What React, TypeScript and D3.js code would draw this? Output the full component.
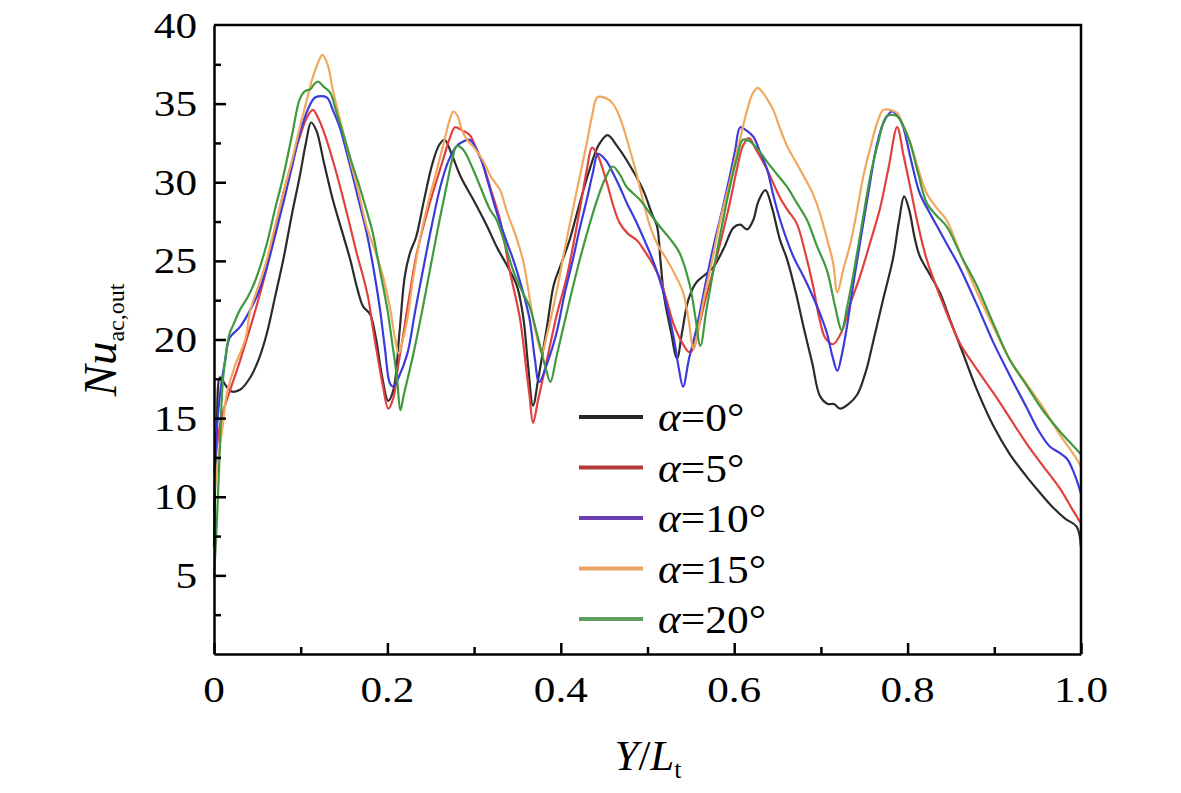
import { useEffect, useRef } from "react";
import * as d3 from "d3";

type Pt = [number, number];

// Y/Lt, Nu_ac,out
const alpha0: Pt[] = [
  [0, 6.8], [0.003, 14], [0.007, 17.6], [0.012, 17.2], [0.02, 16.7], [0.03, 16.8], [0.042, 17.6], [0.052, 18.8],
  [0.061, 20.4], [0.07, 22.6], [0.08, 25.1], [0.09, 28], [0.099, 30.4], [0.106, 32.5], [0.112, 33.8], [0.118, 33.3],
  [0.127, 31.2], [0.137, 28.9], [0.147, 27], [0.157, 25.1], [0.165, 23.3], [0.172, 22.1], [0.18, 21.6], [0.187, 20],
  [0.194, 17.6], [0.201, 16.1], [0.207, 16.8], [0.214, 20.5], [0.22, 24], [0.226, 25.5], [0.233, 26.5], [0.242, 28.8],
  [0.252, 31.2], [0.26, 32.4], [0.266, 32.7], [0.274, 31.8], [0.285, 30.3], [0.299, 28.9], [0.315, 27.2], [0.326, 25.9],
  [0.341, 24.4], [0.35, 23.3], [0.357, 21.3], [0.362, 18.5], [0.368, 15.8], [0.374, 17.5], [0.384, 20.8], [0.392, 23.5],
  [0.399, 24.6], [0.41, 26.3], [0.42, 28.3], [0.432, 30.6], [0.444, 32.4], [0.454, 33.0], [0.465, 32.3], [0.476, 31.4],
  [0.495, 29.5], [0.505, 28.0], [0.511, 27.2], [0.515, 25], [0.519, 22.8], [0.527, 20.5], [0.534, 18.8], [0.54, 20.5],
  [0.547, 22.5], [0.556, 23.6], [0.566, 24.1], [0.576, 24.6], [0.588, 25.8], [0.599, 27.1], [0.607, 27.3], [0.615, 27.0],
  [0.622, 27.6], [0.628, 28.8], [0.636, 29.5], [0.643, 28.5], [0.653, 26.3], [0.661, 25.1], [0.671, 23.0], [0.68, 20.8],
  [0.69, 18.5], [0.699, 16.4], [0.708, 15.9], [0.715, 15.9], [0.722, 15.6], [0.732, 15.9], [0.742, 16.5], [0.752, 18],
  [0.76, 19.8], [0.772, 22.6], [0.783, 25.1], [0.79, 27.5], [0.796, 29.1], [0.802, 28.2], [0.808, 26.5], [0.814, 25.3],
  [0.825, 24.2], [0.837, 23.0], [0.85, 21.1], [0.864, 19.1], [0.88, 16.8], [0.899, 14.5], [0.918, 12.7], [0.937, 11.3],
  [0.952, 10.3], [0.968, 9.3], [0.982, 8.6], [0.995, 8.1], [1.0, 6.8],
];

const alpha5: Pt[] = [
  [0, 11.5], [0.004, 13.5], [0.009, 15.1], [0.018, 16.7], [0.028, 18.3], [0.042, 20.8], [0.052, 22.7], [0.061, 24.6],
  [0.07, 26.9], [0.08, 29.3], [0.09, 31.3], [0.099, 32.9], [0.107, 34.1], [0.114, 34.6], [0.12, 34.1], [0.128, 33],
  [0.137, 31.4], [0.147, 29.4], [0.157, 27.2], [0.165, 25.4], [0.172, 24.0], [0.178, 22.6], [0.183, 20.8], [0.19, 18.5],
  [0.195, 17.0], [0.201, 15.6], [0.207, 16.3], [0.212, 18.2], [0.218, 20.2], [0.226, 23.0], [0.234, 25.5], [0.249, 28.7],
  [0.264, 31.4], [0.272, 32.8], [0.278, 33.5], [0.286, 33.3], [0.295, 33.0], [0.302, 32.2], [0.31, 31.2], [0.32, 29.4],
  [0.33, 27.6], [0.341, 24.4], [0.353, 21.3], [0.36, 18.2], [0.364, 16.4], [0.368, 14.7], [0.374, 16.2], [0.384, 18.7],
  [0.395, 21.5], [0.407, 24.0], [0.422, 28.3], [0.43, 30.8], [0.436, 32.2], [0.442, 31.8], [0.453, 30.0], [0.46, 28.6],
  [0.468, 27.4], [0.478, 26.7], [0.488, 26.3], [0.497, 25.6], [0.506, 24.8], [0.515, 23.8], [0.522, 22.5], [0.53, 21.0],
  [0.54, 19.8], [0.548, 19.2], [0.553, 19.4], [0.56, 21.0], [0.568, 22.8], [0.576, 24.4], [0.586, 26.6], [0.595, 28.7],
  [0.603, 30.8], [0.61, 32.3], [0.617, 32.8], [0.625, 32.1], [0.638, 30.8], [0.653, 29.0], [0.662, 28.2], [0.672, 27.4],
  [0.682, 25.5], [0.691, 23.4], [0.698, 21.4], [0.705, 20.1], [0.714, 19.7], [0.724, 20.5], [0.734, 22.3], [0.745, 24.0],
  [0.757, 26.2], [0.768, 28.3], [0.778, 30.9], [0.788, 33.5], [0.795, 31.8], [0.803, 29.7], [0.812, 27.3], [0.822, 25.1],
  [0.84, 22.4], [0.86, 19.8], [0.88, 18.1], [0.899, 16.6], [0.918, 15.0], [0.937, 13.4], [0.957, 11.9], [0.976, 10.5],
  [0.99, 9.2], [1.0, 8.3],
];

const alpha10: Pt[] = [
  [0, 9], [0.003, 14], [0.008, 17], [0.013, 18.7], [0.018, 20.1], [0.03, 20.8], [0.042, 21.9], [0.052, 23.1],
  [0.061, 24.6], [0.07, 26.5], [0.08, 28.7], [0.09, 31.0], [0.099, 33.1], [0.108, 34.6], [0.117, 35.4], [0.13, 35.4],
  [0.137, 34.6], [0.145, 33.5], [0.153, 31.9], [0.16, 30.4], [0.168, 28.6], [0.176, 26.8], [0.184, 24.5], [0.191, 22.1],
  [0.197, 19.5], [0.203, 17.2], [0.207, 17.0], [0.213, 17.6], [0.223, 19.1], [0.232, 21.8], [0.241, 24.4], [0.251, 27.2],
  [0.261, 29.7], [0.27, 31.3], [0.28, 32.3], [0.288, 32.6], [0.295, 32.7], [0.307, 31.6], [0.316, 30.0], [0.326, 28.1],
  [0.335, 26.6], [0.345, 25.1], [0.355, 23.3], [0.364, 21.3], [0.37, 18.8], [0.375, 17.3], [0.385, 18.6], [0.395, 20.4],
  [0.404, 22.8], [0.414, 25.1], [0.422, 27.1], [0.43, 28.9], [0.437, 30.6], [0.443, 31.8], [0.452, 31.4], [0.46, 30.6],
  [0.468, 29.7], [0.476, 28.7], [0.486, 27.6], [0.495, 26.5], [0.505, 25.2], [0.514, 23.8], [0.522, 22.2], [0.53, 20.2],
  [0.536, 18.2], [0.541, 17.0], [0.548, 18.8], [0.557, 20.8], [0.566, 23.3], [0.576, 25.9], [0.586, 28.2], [0.595, 30.4],
  [0.601, 32.0], [0.607, 33.5], [0.614, 33.3], [0.622, 32.9], [0.63, 31.9], [0.638, 30.8], [0.645, 29.2], [0.653, 27.6],
  [0.668, 25.3], [0.68, 24.0], [0.691, 22.7], [0.7, 21.5], [0.707, 20.4], [0.713, 19.0], [0.719, 18.0], [0.724, 19.0],
  [0.73, 20.8], [0.737, 23.4], [0.745, 26.1], [0.755, 29.4], [0.765, 32.5], [0.774, 34.0], [0.782, 34.5], [0.79, 34.1],
  [0.795, 33.5], [0.804, 31.4], [0.814, 29.3], [0.824, 28.2], [0.834, 27.2], [0.847, 25.9], [0.86, 24.6], [0.88, 22.2],
  [0.899, 19.8], [0.918, 17.7], [0.937, 15.7], [0.95, 14.3], [0.964, 13.2], [0.975, 12.8], [0.984, 12.4], [0.992, 11.5],
  [1.0, 10.2],
];

const alpha15: Pt[] = [
  [0, 10], [0.005, 12.5], [0.01, 14.5], [0.015, 16.6], [0.024, 18.3], [0.036, 20.0], [0.042, 21.9], [0.052, 23.5],
  [0.061, 25.1], [0.07, 27.1], [0.08, 29.3], [0.09, 31.4], [0.099, 33.5], [0.106, 35.0], [0.113, 36.5], [0.12, 37.6],
  [0.125, 38.1], [0.131, 37.5], [0.137, 35.9], [0.147, 33.6], [0.157, 31.4], [0.167, 29.3], [0.176, 27.2], [0.186, 25.6],
  [0.195, 24.0], [0.203, 22.0], [0.209, 20.0], [0.213, 19.1], [0.218, 20.0], [0.223, 21.3], [0.23, 24.0], [0.238, 26.5],
  [0.247, 28.7], [0.257, 30.8], [0.265, 32.5], [0.272, 34.0], [0.276, 34.5], [0.281, 34.2], [0.286, 33.3], [0.292, 32.7],
  [0.3, 32.2], [0.31, 31.4], [0.32, 30.3], [0.33, 29.5], [0.338, 28.1], [0.348, 26.6], [0.357, 24.9], [0.363, 23.0],
  [0.368, 21.3], [0.374, 19.8], [0.378, 19.1], [0.384, 20.3], [0.395, 23.0], [0.404, 25.6], [0.414, 28.3], [0.422, 30.4],
  [0.43, 32.5], [0.436, 34.2], [0.442, 35.4], [0.45, 35.4], [0.46, 35.0], [0.466, 34.4], [0.472, 33.5], [0.48, 32.0],
  [0.488, 30.4], [0.495, 28.8], [0.503, 27.2], [0.512, 26.0], [0.522, 25.1], [0.532, 24.1], [0.541, 23.0], [0.547, 21.4],
  [0.553, 19.4], [0.558, 20.5], [0.564, 22.3], [0.574, 24.9], [0.584, 27.6], [0.594, 29.8], [0.603, 31.9], [0.61, 33.5],
  [0.615, 34.6], [0.621, 35.6], [0.627, 36.0], [0.633, 35.7], [0.639, 35.2], [0.645, 34.6], [0.653, 33.4], [0.661, 32.3],
  [0.672, 31.2], [0.684, 30.0], [0.692, 29.1], [0.699, 28.0], [0.707, 26.4], [0.714, 24.9], [0.719, 23.0], [0.726, 24.5],
  [0.734, 26.1], [0.742, 28.3], [0.749, 30.4], [0.757, 32.2], [0.765, 33.8], [0.772, 34.6], [0.78, 34.6], [0.788, 34.4],
  [0.795, 33.6], [0.803, 32.5], [0.812, 30.9], [0.822, 29.3], [0.833, 28.4], [0.845, 27.6], [0.862, 25.3], [0.88, 23.0],
  [0.899, 20.8], [0.918, 18.7], [0.937, 17.2], [0.956, 15.7], [0.975, 14.0], [0.995, 12.4], [1.0, 11.9],
];

const alpha20: Pt[] = [
  [0, 4.8], [0.003, 8], [0.006, 12], [0.01, 17.2], [0.014, 19.2], [0.018, 20.4], [0.022, 20.9], [0.03, 21.9],
  [0.039, 22.7], [0.048, 23.8], [0.061, 26.1], [0.07, 28.2], [0.08, 30.4], [0.09, 33.0], [0.099, 35.3], [0.105, 35.8],
  [0.111, 35.9], [0.115, 36.2], [0.12, 36.4], [0.126, 36.1], [0.134, 35.7], [0.141, 34.5], [0.149, 33.1], [0.158, 31.4],
  [0.168, 29.7], [0.176, 28.2], [0.183, 26.8], [0.19, 24.8], [0.2, 21.9], [0.206, 19.6], [0.211, 17.6], [0.215, 15.5],
  [0.219, 16.5], [0.23, 19.1], [0.24, 21.8], [0.249, 24.4], [0.258, 27.0], [0.268, 29.7], [0.275, 31.5], [0.28, 32.3],
  [0.287, 32.1], [0.299, 30.8], [0.308, 29.6], [0.318, 28.3], [0.326, 27.6], [0.336, 26.0], [0.345, 24.4], [0.355, 23.1],
  [0.364, 22.1], [0.37, 20.9], [0.376, 19.6], [0.382, 18.3], [0.388, 17.3], [0.395, 18.9], [0.403, 20.8], [0.412, 22.9],
  [0.422, 25.1], [0.432, 27.1], [0.442, 28.9], [0.451, 30.2], [0.46, 31.0], [0.468, 30.5], [0.476, 29.7], [0.491, 28.9],
  [0.503, 28.0], [0.514, 27.2], [0.526, 26.4], [0.537, 25.5], [0.549, 23.4], [0.555, 21.5], [0.561, 19.6], [0.568, 21.9],
  [0.576, 24.4], [0.585, 27.0], [0.595, 29.7], [0.603, 31.5], [0.61, 32.7], [0.618, 32.6], [0.63, 31.9], [0.638, 31.3],
  [0.645, 30.8], [0.661, 29.7], [0.672, 28.7], [0.684, 27.6], [0.695, 26.0], [0.707, 24.4], [0.716, 22.2], [0.724, 20.6],
  [0.73, 22.0], [0.737, 24.0], [0.747, 27.2], [0.757, 30.4], [0.766, 32.5], [0.776, 34.2], [0.788, 34.2], [0.795, 33.6],
  [0.803, 32.5], [0.812, 30.6], [0.822, 28.7], [0.833, 27.9], [0.845, 27.2], [0.862, 25.3], [0.88, 23.4], [0.899, 21.0],
  [0.918, 18.7], [0.937, 17.1], [0.956, 15.5], [0.975, 14.2], [0.995, 13.0], [1.0, 12.7],
];

const seriesLabels = ["0", "5", "10", "15", "20"];
const seriesData = [alpha0, alpha5, alpha10, alpha15, alpha20];
const lineColors = ["#2b2b2b", "#e2403e", "#3b3bdc", "#f0a85e", "#3f9a3f"];
const legendColors = ["#262626", "#b23a3a", "#6a3db2", "#e8a466", "#5e9f5e"];

const xMajor = [0, 0.2, 0.4, 0.6, 0.8, 1.0];
const xMinor = [0.1, 0.3, 0.5, 0.7, 0.9];
const yMajor = [5, 10, 15, 20, 25, 30, 35, 40];
const yMinor = [2.5, 7.5, 12.5, 17.5, 22.5, 27.5, 32.5, 37.5];

const FONT = "Liberation Serif, Times New Roman, serif";

const NuChart = () => {
  const svgRef = useRef<SVGSVGElement | null>(null);

  useEffect(() => {
    const svg = d3.select(svgRef.current);
    svg.selectAll("*").remove();

    const left = 214;
    const right = 1081;
    const top = 25;
    const bottom = 654;
    const stretch = 1.2; // tick labels in the figure are drawn wide

    const x = d3.scaleLinear().domain([0, 1]).range([left, right]);
    const y = d3.scaleLinear().domain([0, 40]).range([bottom, top]);

    // curves
    const line = d3
      .line<Pt>()
      .x((d) => x(d[0]))
      .y((d) => y(d[1]))
      .curve(d3.curveCatmullRom.alpha(0.5));

    seriesData.forEach((s, i) => {
      svg
        .append("path")
        .datum(s)
        .attr("fill", "none")
        .attr("stroke", lineColors[i])
        .attr("stroke-width", 2.2)
        .attr("stroke-linejoin", "round")
        .attr("d", line);
    });

    // frame
    svg
      .append("path")
      .attr("d", `M${left},${top}H${right}V${bottom}`)
      .attr("fill", "none")
      .attr("stroke", "#000")
      .attr("stroke-width", 2.5);

    const styleAxis = (g: d3.Selection<SVGGElement, unknown, null, undefined>) => {
      g.selectAll(".domain").attr("stroke", "#000").attr("stroke-width", 2.5);
      g.selectAll(".tick line").attr("stroke", "#000").attr("stroke-width", 2.5);
      g.selectAll(".tick text").remove();
    };

    const gx = svg
      .append("g")
      .attr("transform", `translate(0,${bottom})`)
      .call(d3.axisBottom(x).tickValues(xMajor).tickSize(-11).tickSizeOuter(0));
    styleAxis(gx);

    const gxm = svg
      .append("g")
      .attr("transform", `translate(0,${bottom})`)
      .call(d3.axisBottom(x).tickValues(xMinor).tickSize(-7));
    styleAxis(gxm);
    gxm.select(".domain").remove();

    const gy = svg
      .append("g")
      .attr("transform", `translate(${left},0)`)
      .call(d3.axisLeft(y).tickValues(yMajor.filter((v) => v < 40)).tickSize(-12).tickSizeOuter(0));
    styleAxis(gy);

    const gym = svg
      .append("g")
      .attr("transform", `translate(${left},0)`)
      .call(d3.axisLeft(y).tickValues(yMinor).tickSize(-7));
    styleAxis(gym);
    gym.select(".domain").remove();

    // tick labels (horizontally stretched like the original)
    svg
      .append("g")
      .selectAll("text")
      .data(xMajor)
      .join("text")
      .attr("transform", (d) => `translate(${x(d)},${bottom + 48}) scale(${stretch},1)`)
      .attr("text-anchor", "middle")
      .attr("font-family", FONT)
      .attr("font-size", 36)
      .attr("fill", "#000")
      .text((d) => (d === 0 ? "0" : d3.format(".1f")(d)));

    svg
      .append("g")
      .selectAll("text")
      .data(yMajor)
      .join("text")
      .attr("transform", (d) => `translate(${left - 17},${y(d)}) scale(${stretch},1)`)
      .attr("text-anchor", "end")
      .attr("dy", "0.35em")
      .attr("font-family", FONT)
      .attr("font-size", 36)
      .attr("fill", "#000")
      .text((d) => `${d}`);

    // axis titles
    const xt = svg
      .append("text")
      .attr("x", 648)
      .attr("y", 770)
      .attr("text-anchor", "middle")
      .attr("font-family", FONT)
      .attr("font-size", 43);
    xt.append("tspan").attr("font-style", "italic").text("Y");
    xt.append("tspan").text("/");
    xt.append("tspan").attr("font-style", "italic").text("L");
    xt.append("tspan").attr("font-size", 26).attr("dy", 8).text("t");

    const yt = svg
      .append("text")
      .attr("transform", `translate(116,340) rotate(-90)`)
      .attr("text-anchor", "middle")
      .attr("font-family", FONT)
      .attr("font-size", 47);
    yt.append("tspan").attr("font-style", "italic").text("Nu");
    yt.append("tspan").attr("font-size", 24).attr("dy", 8).text("ac,out");

    // legend
    const legendY = d3.scalePoint<string>().domain(seriesLabels).range([417, 619]);
    const lg = svg.append("g");
    seriesLabels.forEach((lab, i) => {
      const yy = legendY(lab) ?? 0;
      lg.append("line")
        .attr("x1", 579)
        .attr("x2", 643)
        .attr("y1", yy)
        .attr("y2", yy)
        .attr("stroke", legendColors[i])
        .attr("stroke-width", 4);
      const t = lg
        .append("text")
        .attr("transform", `translate(658,${yy}) scale(1.06,1)`)
        .attr("dy", "0.35em")
        .attr("font-family", FONT)
        .attr("font-size", 41);
      t.append("tspan").attr("font-style", "italic").text("α");
      t.append("tspan").text(`=${lab}°`);
    });
  }, []);

  return <svg ref={svgRef} width={1181} height={793} style={{ display: "block" }} />;
};

export default function App() {
  return (
    <div style={{ background: "#fff" }}>
      <style>{`body{margin:0;background:#fff}`}</style>
      <NuChart />
    </div>
  );
}
